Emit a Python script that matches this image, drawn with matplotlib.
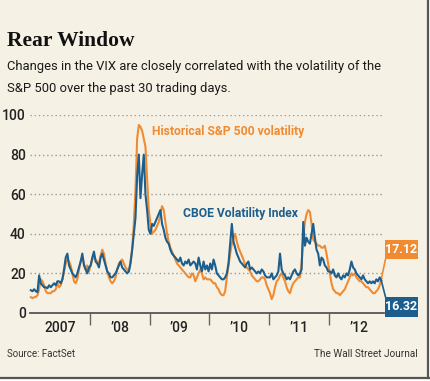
import numpy as np
import matplotlib
matplotlib.use("Agg")
import matplotlib.pyplot as plt
from matplotlib.patches import Rectangle
from matplotlib.lines import Line2D

# roughly every 10 days, 36 readings per year (2012 runs to late Nov)
vix_2007 = [11.5, 11, 12, 11, 10.5, 19, 15, 14, 13, 13, 12.5, 14, 13, 14, 15, 14, 16, 16,
            15, 17, 22, 28, 30, 24, 22, 20, 19, 18, 20, 23, 26, 30, 24, 22, 20, 23]
vix_2008 = [24, 28, 31, 26, 25, 23, 28, 30, 27, 24, 21, 20, 18, 18, 19, 20, 22, 24,
            26, 23, 22, 21, 20, 21, 25, 32, 40, 48, 69, 80, 58, 70, 80, 60, 52, 42]
vix_2009 = [40, 45, 44, 46, 48, 50, 52, 45, 42, 38, 36, 35, 32, 30, 29, 28, 27, 26,
            28, 25, 24, 26, 25, 27, 24, 25, 26, 25, 22, 28, 24, 21, 26, 22, 24, 21]
vix_2010 = [25, 22, 27, 24, 20, 19, 18, 17, 17, 18, 20, 25, 35, 45, 36, 33, 30, 28,
            26, 25, 24, 23, 25, 26, 22, 23, 22, 21, 20, 21, 20, 22, 21, 19, 18, 18]
vix_2011 = [18, 20, 17, 18, 19, 21, 30, 22, 20, 19, 17, 18, 17, 19, 21, 22, 20, 19,
            20, 22, 46, 34, 38, 36, 35, 40, 45, 38, 32, 30, 24, 28, 27, 24, 23, 21]
vix_2012 = [21, 20, 22, 19, 18, 20, 18, 17, 19, 18, 20, 19, 22, 26, 23, 22, 20, 19,
            18, 17, 19, 17, 16, 15, 16, 15, 16, 15, 17, 16, 18, 16.32]

hist_2007 = [8, 7.5, 8, 8, 9, 12, 17, 16, 14, 11, 10, 10, 10, 11, 11, 12, 15, 13,
             14, 17, 21, 25, 27, 26, 24, 20, 16, 15, 17, 22, 26, 28, 25, 22, 24, 21]
hist_2008 = [24, 27, 29, 27, 26, 25, 29, 32, 30, 25, 21, 18, 16, 15, 16, 18, 22, 25,
             26, 27, 25, 23, 22, 21, 26, 32, 45, 62, 88, 95, 94, 92, 88, 84, 68, 52]
hist_2009 = [45, 40, 41, 42, 44, 46, 50, 54, 52, 46, 40, 36, 33, 31, 29, 27, 25, 24,
             23, 22, 21, 20, 19, 18, 18, 20, 19, 16, 18, 20, 22, 20, 17, 18, 17, 17]
hist_2010 = [17, 16, 15, 15, 13, 12, 10, 9, 9, 11, 18, 24, 30, 35, 38, 40, 36, 33,
             31, 29, 27, 24, 23, 22, 21, 19, 18, 17, 16, 16, 17, 18, 18, 17, 14, 12]
hist_2011 = [10, 7, 9, 13, 16, 17, 19, 20, 18, 16, 13, 11, 10, 13, 15, 16, 17, 18,
             18, 25, 38, 46, 50, 52, 51, 45, 37, 36, 35, 34, 34, 33, 33, 34, 30, 25]
hist_2012 = [20, 15, 12, 11, 10, 10, 9, 10, 11, 12, 14, 16, 18, 20, 19, 20, 18, 17,
             16, 16, 15, 14, 13, 13, 12, 11, 10, 10, 11, 12, 14, 17.12]

years = [2007, 2008, 2009, 2010, 2011, 2012]
year_labels = ["2007", "\u201908", "\u201909", "\u201910", "\u201911", "\u201912"]
vix = [vix_2007, vix_2008, vix_2009, vix_2010, vix_2011, vix_2012]
hist = [hist_2007, hist_2008, hist_2009, hist_2010, hist_2011, hist_2012]

def dates(series):
    return np.concatenate([yr + (np.arange(len(v)) + 0.5) / 36 for yr, v in zip(years, series)])

t_vix, y_vix = dates(vix), np.concatenate(vix)
t_hist, y_hist = dates(hist), np.concatenate(hist)

BG = "#f6f1e5"
ORANGE = "#f08b32"
BLUE = "#1c5f8e"

plt.rcParams['font.family'] = ['Roboto', 'DejaVu Sans']

W, H = 431, 381
def fx(x): return x / W
def fy(y): return 1 - y / H

fig = plt.figure(figsize=(W / 100, H / 100), dpi=100, facecolor=BG)
ax = fig.add_axes([fx(30), fy(313), fx(384) - fx(30), fy(115) - fy(313)])
ax.set_facecolor("none")

ax.plot(t_hist, y_hist, color=ORANGE, lw=1.5, clip_on=False, zorder=3)
ax.plot(t_vix, y_vix, color=BLUE, lw=1.5, clip_on=False, zorder=4)

ax.set_xlim(2007.0, 2007 + 354 / 59.8)
ax.set_ylim(0, 100)
ax.set_yticks([0, 20, 40, 60, 80, 100])
ax.yaxis.grid(True, linestyle=(0, (1, 2)), color="#9a9a9a", lw=1.0)
ax.set_axisbelow(True)
ax.tick_params(axis="y", length=0, pad=3, labelsize=10, labelcolor="#222")

ax.set_xticks(years[1:])
ax.set_xticklabels([])
ax.tick_params(axis="x", which="major", direction="out", length=8.5, width=1, color="#666")
ax.set_xticks([y + 0.5 for y in years], minor=True)
ax.set_xticklabels(year_labels, minor=True)
ax.tick_params(axis="x", which="minor", length=0, pad=6, labelsize=10, labelcolor="#222")
for lab in ax.get_xticklabels(minor=True) + ax.get_yticklabels():
    lab.set_fontweight("medium")

for s in ["top", "right", "left"]:
    ax.spines[s].set_visible(False)
ax.spines["bottom"].set_color("#555")
ax.spines["bottom"].set_linewidth(1.3)

# series labels
fig.text(fx(152), fy(135), "Historical S&P 500 volatility", color=ORANGE,
         weight="bold", fontsize=8.7, va="baseline")
fig.text(fx(183), fy(217), "CBOE Volatility Index", color=BLUE,
         weight="bold", fontsize=8.7, va="baseline")

# end value boxes
for val, col, top, bot, edge in [(hist_2012[-1], ORANGE, 240, 259, 259),
                                 (vix_2012[-1], BLUE, 297, 317, 297)]:
    fig.add_artist(Rectangle((fx(385), fy(bot)), fx(418) - fx(385), fy(top) - fy(bot),
                             transform=fig.transFigure, facecolor=col, edgecolor="none"))
    fig.text(fx(401.5), fy((top + bot) / 2), f"{val:.2f}", color="white", weight="bold",
             fontsize=9, ha="center", va="center")
    ax.annotate("", xy=(2012.875, val), xycoords="data",
                xytext=(fx(385.5), fy(edge)), textcoords="figure fraction",
                arrowprops=dict(arrowstyle="-", color=col, lw=1.2, shrinkA=0, shrinkB=0))

# headline
fig.text(fx(7), fy(46), "Rear Window", family="Liberation Serif", weight="bold",
         fontsize=15.5, va="baseline", color="#111")
fig.text(fx(7), fy(70), "Changes in the VIX are closely correlated with the volatility of the",
         fontsize=9.4, va="baseline", color="#1a1a1a")
fig.text(fx(7), fy(92), "S&P 500 over the past 30 trading days.",
         fontsize=9.4, va="baseline", color="#1a1a1a")

fig.text(fx(7), fy(357), "Source: FactSet", fontsize=7, va="baseline", color="#333")
fig.text(fx(418), fy(357), "The Wall Street Journal", fontsize=7.2, va="baseline",
         ha="right", color="#333")

# page edge shadow
fig.add_artist(Rectangle((fx(429), 0), 1, 1, transform=fig.transFigure,
                         facecolor="white", edgecolor="none"))
fig.add_artist(Rectangle((0, 0), 1, fy(378.5), transform=fig.transFigure,
                         facecolor="white", edgecolor="none"))
fig.add_artist(Line2D([fx(428.5), fx(428.5)], [fy(378), 1], color="#555", lw=1.6))
fig.add_artist(Line2D([0, fx(429)], [fy(377.5), fy(377.5)], color="#555", lw=1.6))

fig.savefig("out.png", dpi=100, facecolor=BG)
